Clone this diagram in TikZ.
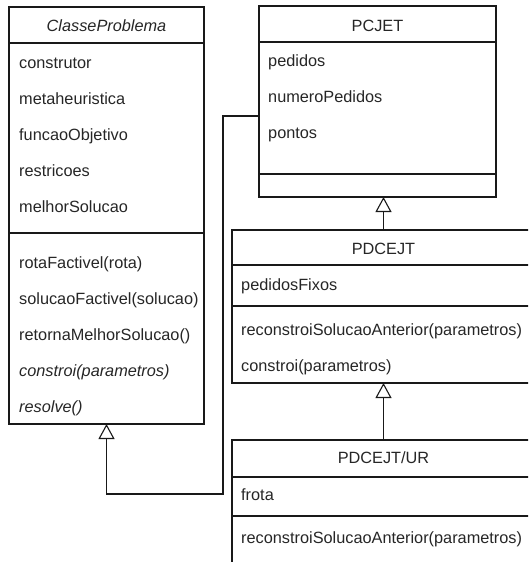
\documentclass[tikz,border=0pt]{standalone}
\usepackage{fontspec}
\setmainfont{Liberation Sans}
\usetikzlibrary{arrows.meta}
\tikzset{
  box/.style={draw=black!90, line width=1.1pt, anchor=north west, inner sep=0pt, outer sep=0pt},
  sep/.style={draw=black!90, line width=1.1pt},
  txt/.style={anchor=base west, inner sep=0pt, text=black!85, font=\fontsize{16.3}{19}\selectfont},
  ttl/.style={anchor=base, inner sep=0pt, text=black!85, font=\fontsize{16.3}{19}\selectfont},
  inh/.style={draw=black!90, line width=1.1pt, -{Triangle[open, fill=white, length=15pt, width=16pt]}}
}
\begin{document}
\begin{tikzpicture}[x=1pt, y=-1pt]
\clip (0,0) rectangle (528,562);
\useasboundingbox (0,0) rectangle (528,562);

% ClasseProblema (abstract)
\node[box, minimum width=195pt, minimum height=417pt] (cp) at (9,7) {};
\draw[sep] (9,43) -- (204,43);
\draw[sep] (9,233) -- (204,233);
\node[ttl, font=\fontsize{16.3}{19}\selectfont\itshape] (cpt) at (106.5,31) {ClasseProblema};
\node[txt] (cpa1) at (19,68) {construtor};
\node[txt] (cpa2) at (19,104) {metaheuristica};
\node[txt] (cpa3) at (19,140) {funcaoObjetivo};
\node[txt] (cpa4) at (19,176) {restricoes};
\node[txt] (cpa5) at (19,212) {melhorSolucao};
\node[txt] (cpm1) at (19,268) {rotaFactivel(rota)};
\node[txt] (cpm2) at (19,304) {solucaoFactivel(solucao)};
\node[txt] (cpm3) at (19,340) {retornaMelhorSolucao()};
\node[txt, font=\fontsize{16.3}{19}\selectfont\itshape] (cpm4) at (19,376) {constroi(parametros)};
\node[txt, font=\fontsize{16.3}{19}\selectfont\itshape] (cpm5) at (19,412) {resolve()};

% PCJET
\node[box, minimum width=237pt, minimum height=191pt] (pcjet) at (259,6) {};
\draw[sep] (259,42) -- (496,42);
\draw[sep] (259,174) -- (496,174);
\node[ttl] (pct) at (377.5,31) {PCJET};
\node[txt] (pca1) at (268,66) {pedidos};
\node[txt] (pca2) at (268,102) {numeroPedidos};
\node[txt] (pca3) at (268,138) {pontos};

% PDCEJT
\node[box, minimum width=303pt, minimum height=153pt] (pd) at (232,230) {};
\draw[sep] (232,265) -- (535,265);
\draw[sep] (232,306) -- (535,306);
\node[ttl] (pdt) at (383.5,254) {PDCEJT};
\node[txt] (pda1) at (241,290) {pedidosFixos};
\node[txt] (pdm1) at (241,335) {reconstroiSolucaoAnterior(parametros)};
\node[txt] (pdm2) at (241,371) {constroi(parametros)};

% PDCEJT/UR
\node[box, minimum width=303pt, minimum height=160pt] (ur) at (232,440) {};
\draw[sep] (232,477) -- (535,477);
\draw[sep] (232,516) -- (535,516);
\node[ttl] (urt) at (383.5,463) {PDCEJT/UR};
\node[txt] (ura1) at (241,500) {frota};
\node[txt] (urm1) at (241,543) {reconstroiSolucaoAnterior(parametros)};

% generalisation links
\coordinate (j1) at (223,116);
\coordinate (j2) at (223,494);
\draw[inh] (pcjet.west |- j1) -- (j1) -- (j2) -| (cp.south);
\draw[inh] (pd.north) -- (pd.north |- pcjet.south);
\draw[inh] (ur.north) -- (ur.north |- pd.south);
\end{tikzpicture}
\end{document}
